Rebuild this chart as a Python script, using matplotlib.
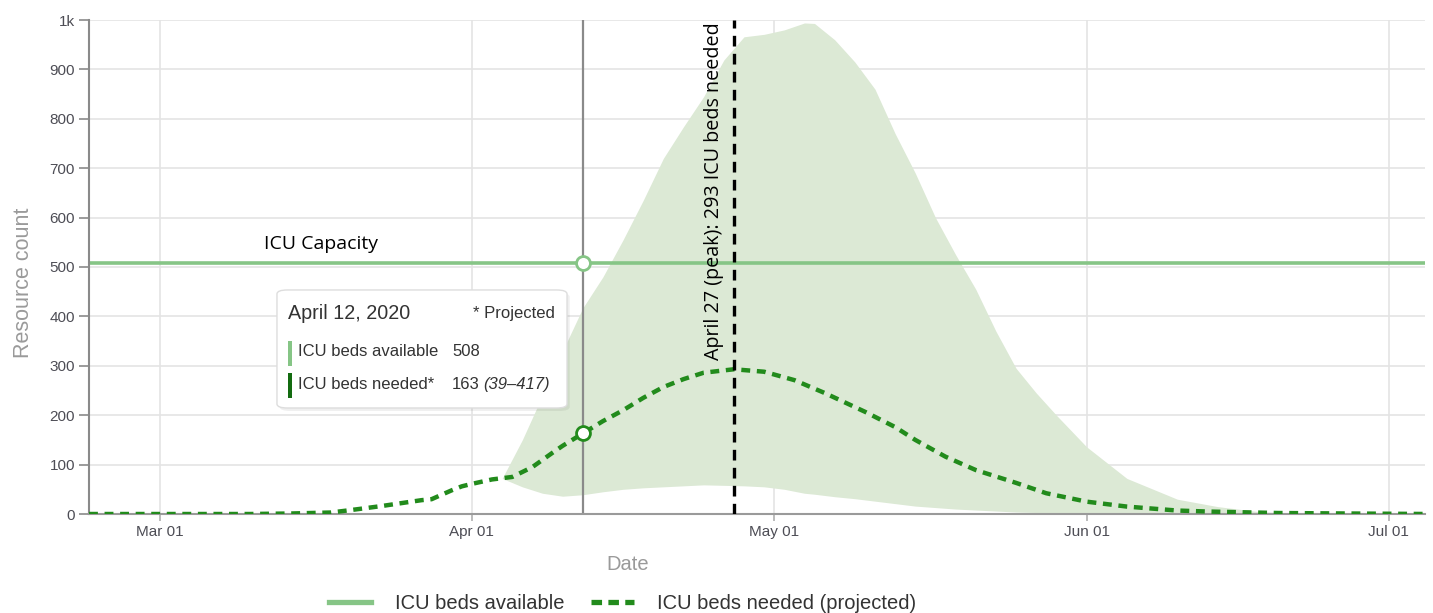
import numpy as np
import pandas as pd
import matplotlib.pyplot as plt
from matplotlib.patches import FancyBboxPatch, Rectangle
from matplotlib.lines import Line2D
import matplotlib.dates as mdates

plt.rcParams['font.family'] = ['Liberation Sans', 'DejaVu Sans']

# ICU beds needed, mean projection
need_dates = pd.to_datetime([
    '2020-02-23', '2020-03-10', '2020-03-14', '2020-03-18', '2020-03-20',
    '2020-03-23', '2020-03-27', '2020-03-28', '2020-03-30', '2020-03-31',
    '2020-04-01', '2020-04-03', '2020-04-05', '2020-04-07', '2020-04-09',
    '2020-04-10', '2020-04-12', '2020-04-14', '2020-04-16', '2020-04-18',
    '2020-04-20', '2020-04-22', '2020-04-24', '2020-04-27', '2020-04-30',
    '2020-05-03', '2020-05-06', '2020-05-10', '2020-05-13', '2020-05-15',
    '2020-05-18', '2020-05-21', '2020-05-25', '2020-05-28', '2020-06-01',
    '2020-06-05', '2020-06-10', '2020-06-13', '2020-06-20', '2020-06-27',
    '2020-07-05'])
need_mean = [0, 0, 1, 3, 8,
             16, 28, 30, 48, 56,
             61, 70, 75, 95, 124,
             138, 163, 188, 210, 235,
             257, 273, 286, 293, 288,
             271, 245, 207, 176, 150,
             116, 89, 63, 42, 25,
             15, 7, 5, 2, 1,
             0]

# uncertainty band
band_dates = pd.to_datetime([
    '2020-04-04', '2020-04-06', '2020-04-08', '2020-04-10', '2020-04-12',
    '2020-04-14', '2020-04-16', '2020-04-18', '2020-04-20', '2020-04-22',
    '2020-04-24', '2020-04-26', '2020-04-28', '2020-04-30', '2020-05-02',
    '2020-05-04', '2020-05-05', '2020-05-07', '2020-05-09', '2020-05-11',
    '2020-05-13', '2020-05-15', '2020-05-17', '2020-05-19', '2020-05-21',
    '2020-05-23', '2020-05-25', '2020-05-27', '2020-05-29', '2020-06-01',
    '2020-06-05', '2020-06-10', '2020-06-14', '2020-06-18', '2020-06-22',
    '2020-06-26'])
band_low = [72, 55, 42, 36, 39,
            45, 50, 53, 55, 57,
            59, 58, 57, 55, 50,
            42, 40, 35, 31, 26,
            21, 16, 13, 10, 8,
            6, 4, 3, 2, 1,
            1, 0, 0, 0, 0,
            0]
band_high = [72, 150, 240, 330, 417,
             480, 555, 635, 720, 784,
             845, 919, 966, 971, 980,
             994, 993, 960, 915, 860,
             770, 690, 600, 525, 455,
             370, 295, 245, 200, 136,
             72, 30, 15, 5, 1,
             0]

capacity = 508
hover_date = pd.Timestamp('2020-04-12')
hover_need = 163
hover_range = '(39–417)'
peak_date = pd.Timestamp('2020-04-27')
peak_need = 293

light_green = '#86c586'
dark_green = '#228b1c'

fig = plt.figure(figsize=(14.33, 6.13), dpi=100)
ax = fig.add_axes([89 / 1433, 1 - 514 / 613, 1336 / 1433, 494 / 613])

ax.fill_between(band_dates, band_low, band_high, color='#dce9d5', lw=0, zorder=1)
ax.axhline(capacity, color=light_green, lw=2.6, zorder=2)
ax.plot(need_dates, need_mean, color=dark_green, lw=3.2, dashes=(2.0, 1.5), zorder=3)

ax.axvline(hover_date, color='#8a8a8a', lw=1.6, zorder=2)
ax.plot([hover_date], [capacity], 'o', ms=10, mfc='white', mec=light_green, mew=2, zorder=5)
ax.plot([hover_date], [hover_need], 'o', ms=10, mfc='white', mec=dark_green, mew=2, zorder=5)

ax.axvline(peak_date, color='black', lw=2.4, dashes=(3.2, 2.2), zorder=4)
ax.annotate(f'April 27 (peak): {peak_need} ICU beds needed', xy=(peak_date, 312),
            xytext=(-20, 0), textcoords='offset pixels', rotation=90,
            ha='center', va='bottom', fontsize=14.2, family='Open Sans', color='black')
ax.text(pd.Timestamp('2020-03-17'), 547, 'ICU Capacity', fontsize=14,
        family='Open Sans', ha='center', va='center', color='black')

ax.set_xlim(pd.Timestamp('2020-02-23'), pd.Timestamp('2020-07-04 14:00'))
ax.set_ylim(0, 1000)
ax.set_yticks(np.arange(0, 1001, 100))
ax.set_yticklabels([str(v) for v in range(0, 1000, 100)] + ['1k'])
ax.xaxis.set_major_locator(mdates.MonthLocator())
ax.xaxis.set_major_formatter(mdates.DateFormatter('%b %d'))

ax.grid(True, color='#e4e4e4', lw=1.2, zorder=0)
ax.set_axisbelow(True)
for s in ['top', 'right']:
    ax.spines[s].set_visible(False)
ax.spines['left'].set_color('#8a8a8a')
ax.spines['left'].set_linewidth(1.5)
ax.spines['bottom'].set_color('#9a9a9a')
ax.spines['bottom'].set_linewidth(1.5)
ax.tick_params(axis='y', length=7, width=1.2, color='#8a8a8a', labelsize=11,
               labelcolor='#4d4d55', pad=3)
ax.tick_params(axis='x', length=5, width=1.2, color='#b0b0b0', labelsize=11,
               labelcolor='#4d4d55', pad=3)
ax.set_ylabel('Resource count', fontsize=15.5, color='#9a9a9a')
ax.yaxis.set_label_coords(-0.0415, 0.4676)
ax.set_xlabel('Date', fontsize=14.5, color='#9a9a9a')
ax.xaxis.set_label_coords(0.4034, -0.083)

# hover tooltip
shadow = FancyBboxPatch((0.1427, 0.2086), 0.2171, 0.2389, boxstyle='round,pad=0,rounding_size=0.008',
                        transform=ax.transAxes, fc='#00000010', ec='none', zorder=6)
ax.add_patch(shadow)
box = FancyBboxPatch((0.1407, 0.2146), 0.2171, 0.2389, boxstyle='round,pad=0,rounding_size=0.008',
                     transform=ax.transAxes, fc='white', ec='#dddddd', lw=1, zorder=7)
ax.add_patch(box)
ax.text(0.149, 0.405, 'April 12, 2020', transform=ax.transAxes, fontsize=14.2,
        color='#333333', va='center', zorder=8)
ax.text(0.3488, 0.405, '* Projected', transform=ax.transAxes, fontsize=12,
        color='#333333', va='center', ha='right', zorder=8)
ax.add_patch(Rectangle((0.1490, 0.3000), 0.0026, 0.0506, transform=ax.transAxes,
                       fc=light_green, ec='none', zorder=8))
ax.add_patch(Rectangle((0.1490, 0.2350), 0.0026, 0.0506, transform=ax.transAxes,
                       fc='#136b10', ec='none', zorder=8))
ax.text(0.1564, 0.328, 'ICU beds available', transform=ax.transAxes, fontsize=12,
        color='#333333', va='center', zorder=8)
ax.text(0.2717, 0.328, str(capacity), transform=ax.transAxes, fontsize=12,
        color='#333333', va='center', zorder=8)
ax.text(0.1564, 0.263, 'ICU beds needed*', transform=ax.transAxes, fontsize=12,
        color='#333333', va='center', zorder=8)
ax.text(0.2717, 0.263, str(hover_need), transform=ax.transAxes, fontsize=12,
        color='#333333', va='center', zorder=8)
ax.text(0.2949, 0.263, hover_range, transform=ax.transAxes, fontsize=12,
        color='#333333', va='center', style='italic', zorder=8)

handles = [Line2D([], [], color=light_green, lw=3.8),
           Line2D([], [], color=dark_green, lw=3.8, dashes=(2.0, 1.2))]
fig.legend(handles, ['ICU beds available', 'ICU beds needed (projected)'],
           loc='center', bbox_to_anchor=(0.4344, 0.016), ncol=2, frameon=False,
           fontsize=14.5, labelcolor='#333333', handlelength=2.1, columnspacing=1.35,
           handletextpad=1.15, borderpad=0)

fig.savefig('out.png', dpi=100)
